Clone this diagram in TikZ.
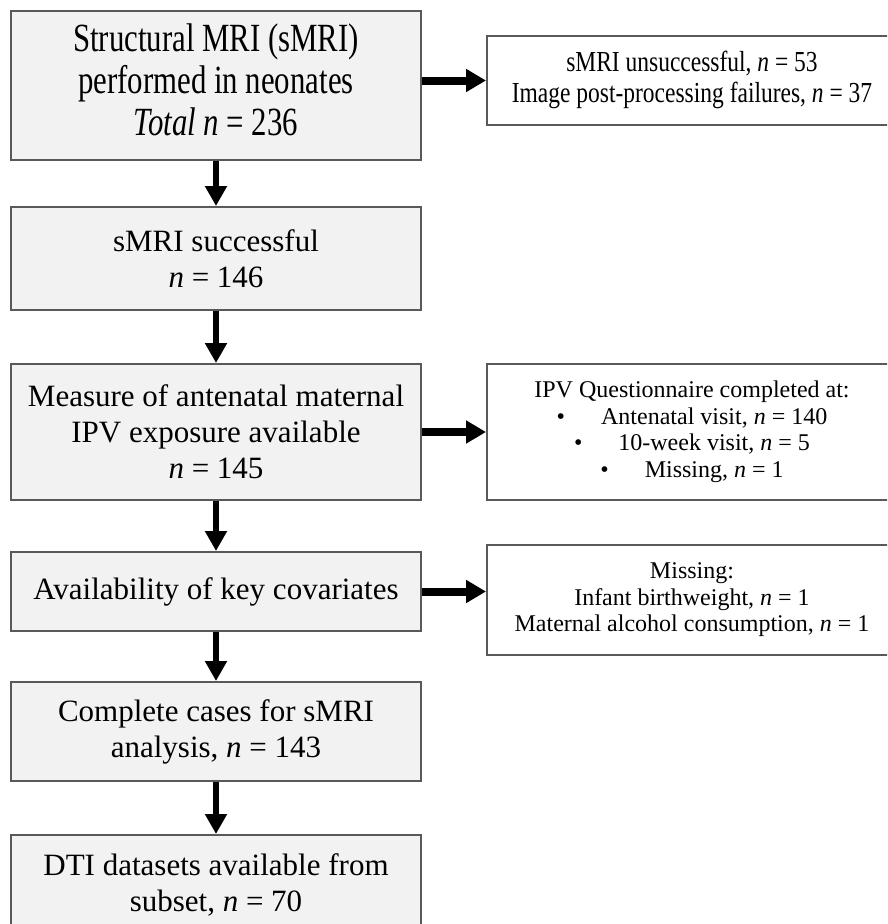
\documentclass[tikz,border=0pt]{standalone}
\usepackage{fontspec}
\setmainfont{Liberation Serif}
\usepackage{graphicx}
\usetikzlibrary{arrows.meta}
\definecolor{boxgrey}{HTML}{F2F2F2}
\definecolor{edgegrey}{HTML}{595959}
\newcommand{\narrow}[2]{\scalebox{#1}[1]{\begin{tabular}{@{}c@{}}#2\end{tabular}}}
\tikzset{ lbox/.style = { rectangle
                        , draw         = edgegrey
                        , line width   = 2pt
                        , fill         = boxgrey
                        , minimum width = 410pt
                        , inner sep    = 0pt
                        , align        = center
                        , font         = \fontsize{31}{36}\selectfont
                        },
          rbox/.style = { rectangle
                        , draw         = edgegrey
                        , line width   = 2pt
                        , fill         = white
                        , minimum width = 410pt
                        , inner sep    = 0pt
                        , align        = center
                        , font         = \fontsize{24}{26.5}\selectfont
                        },
          down/.style = { draw = black
                        , line width   = 6.5pt
                        , -{Triangle[length=20pt, width=21pt]}
                        },
          side/.style = { draw = black
                        , line width   = 8pt
                        , -{Triangle[length=20pt, width=22pt]}
                        }
        }

\begin{document}
\begin{tikzpicture}[x=1pt, y=-1pt]
  \useasboundingbox (0,0) rectangle (887,924);
  \clip (0,0) rectangle (887,924);

  % main column
  \node[lbox, minimum height=149pt] (total) at (216,85.5)
    {\fontsize{40}{42}\selectfont\narrow{0.77}{Structural MRI (sMRI)\\ performed in neonates\\ \textit{Total n} = 236}};
  \node[lbox, minimum height=103pt] (ok) at (216,258.5)
    {sMRI successful\\ \textit{n} = 146};
  \node[lbox, minimum height=136pt] (ipv) at (216,432)
    {Measure of antenatal maternal\\ IPV exposure available\\ \textit{n} = 145};
  \node[lbox, minimum height=79pt] (cov) at (216,591.5)
    {Availability of key covariates};
  \node[lbox, minimum height=99pt] (cc) at (216,731.5)
    {Complete cases for sMRI\\ analysis, \textit{n} = 143};
  \node[lbox, minimum height=100pt] (dti) at (216,885)
    {DTI datasets available from\\ subset, \textit{n} = 70};

  % side boxes
  \node[rbox, minimum height=89pt] (fail) at (692,80.5)
    {\fontsize{29}{31}\selectfont\narrow{0.81}{sMRI unsuccessful, \textit{n} = 53\\ Image post-processing failures, \textit{n} = 37}};
  \node[rbox, minimum height=136pt] (quest) at (692,432)
    {IPV Questionnaire completed at:\\
     \textbullet\hspace{36pt}Antenatal visit, \textit{n} = 140\\
     \textbullet\hspace{36pt}10-week visit, \textit{n} = 5\\
     \textbullet\hspace{36pt}Missing, \textit{n} = 1};
  \node[rbox, minimum height=110pt] (miss) at (692,600)
    {Missing:\\ Infant birthweight, \textit{n} = 1\\ Maternal alcohol consumption, \textit{n} = 1};

  % arrows
  \draw[down] (total) -- (ok);
  \draw[down] (ok) -- (ipv);
  \draw[down] (ipv) -- (cov);
  \draw[down] (cov) -- (cc);
  \draw[down] (cc) -- (dti);
  \draw[side] (total.east |- fail.west) -- (fail.west);
  \draw[side] (ipv.east) -- (quest.west);
  \draw[side] (cov.east) -- (cov.east -| miss.west);
\end{tikzpicture}
\end{document}
